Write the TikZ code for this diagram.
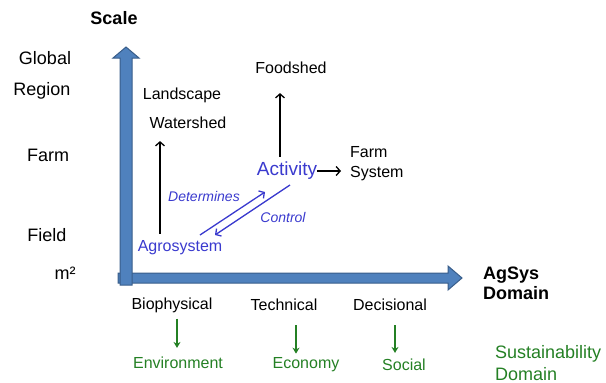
\documentclass[tikz,border=0pt]{standalone}
\usepackage{fontspec}
\setmainfont{Liberation Sans}
\usetikzlibrary{arrows.meta, calc}

\definecolor{axisblue}{RGB}{79,129,189}
\definecolor{axisedge}{RGB}{56,93,138}
\definecolor{agblue}{RGB}{58,58,206}
\definecolor{susgreen}{RGB}{36,128,36}

\begin{document}
\begin{tikzpicture}[x=1pt, y=-1pt,
    lbl/.style={inner sep=0pt, font=\fontsize{16}{20}\selectfont, align=left},
    scl/.style={inner sep=0pt, font=\fontsize{18}{21}\selectfont},
    ttl/.style={inner sep=0pt, font=\bfseries\fontsize{18}{20}\selectfont, align=left},
    blu/.style={lbl, text=agblue},
    grn/.style={lbl, text=susgreen},
    link/.style={-{Straight Barb[length=4pt,width=9pt]}, line width=1.3pt},
    ctl/.style={link, agblue},
    sus/.style={-{Stealth[length=6pt,width=7pt]}, line width=1.3pt, susgreen},
    axis/.style={fill=axisblue, draw=axisedge, line width=1pt, line join=miter}]

    \useasboundingbox (0,0) rectangle (606,383);

    % Axes (block arrows)
    \draw[axis] (118,273) -- (448,273) -- (448,266) -- (462,278) -- (448,290)
        -- (448,283) -- (118,283) -- cycle;
    \draw[axis] (120,285) -- (120,58) -- (113,58) -- (126,47) -- (139,58)
        -- (132,58) -- (132,285) -- cycle;
    \node[ttl] (scale) at (114,18) {Scale};
    \node[ttl, anchor=west] (agsys) at (483,283) {AgSys\\Domain};

    % Scale levels
    \node[scl] (global) at (45,58) {Global};
    \node[scl] (region) at (42,91) {Region};
    \node[scl] (farm) at (48,155) {Farm};
    \node[scl] (field) at (47,235) {Field};
    \node[scl] (m2) at (65,273) {m²};

    % Labels
    \node[lbl] (land) at (182,95) {Landscape};
    \node[lbl] (water) at (188,123) {Watershed};
    \node[lbl] (food) at (291,68) {Foodshed};
    \node[lbl, anchor=west] (farmsys) at (350,164) {Farm\\System};
    \node[blu, font=\fontsize{19}{22}\selectfont] (act) at (287,171) {Activity};
    \node[blu] (agro) at (180,248) {Agrosystem};
    \node[blu, font=\itshape\fontsize{14}{16}\selectfont] (det) at (204,196) {Determines};
    \node[blu, font=\itshape\fontsize{14}{16}\selectfont] (ctrl) at (283,217) {Control};

    % Links
    \draw[link] ($(agro.north)+(-20,-7)$) -- ($(water.south)+(-28,12)$);
    \draw[link] ($(act.north)+(-7,-5)$) -- ($(food.south)+(-11,19)$);
    \draw[link] (act.east) -- ($(farmsys.west |- act.east)+(-9,0)$);
    \coordinate (det-s) at (200,235);
    \coordinate (det-e) at (265,192);
    \coordinate (ctl-s) at (290,185);
    \coordinate (ctl-e) at (215,235);
    \draw[ctl] (det-s) -- (det-e);
    \draw[ctl] (ctl-s) -- (ctl-e);

    % AgSys domains
    \node[lbl] (bio) at (172,305) {Biophysical};
    \node[lbl] (tech) at (284,305) {Technical};
    \node[lbl] (dec) at (390,305) {Decisional};

    % Sustainability domains
    \node[grn] (env) at (178,363) {Environment};
    \node[grn] (eco) at (306,365) {Economy};
    \node[grn] (soc) at (404,365) {Social};
    \node[grn, font=\fontsize{18}{22}\selectfont, anchor=west] (susdom) at (495,363) {Sustainability\\Domain};

    \draw[sus] ($(bio.south)+(5,6)$) -- ($(env.north)+(-1,-9)$);
    \draw[sus] ($(tech.south)+(12,14)$) -- ($(eco.north)+(-10,-4)$);
    \draw[sus] ($(dec.south)+(5,14)$) -- ($(soc.north)+(-9,-6)$);
\end{tikzpicture}
\end{document}
